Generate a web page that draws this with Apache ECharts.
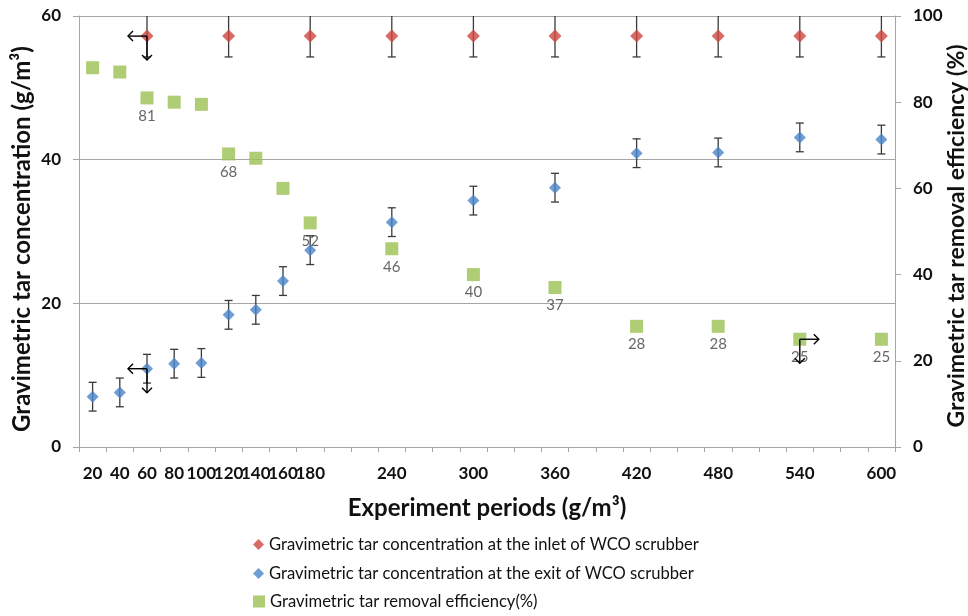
<!DOCTYPE html>
<html>
<head>
<meta charset="utf-8">
<script src="https://cdn.jsdelivr.net/npm/echarts@6/dist/echarts.min.js"></script>
<style>
  html, body { margin: 0; padding: 0; background: #fff; }
  #chart { width: 968px; height: 616px; }
</style>
</head>
<body>
<div id="chart"></div>
<script>
// Experiment periods at which the exit concentration and efficiency were sampled
const periods = [20, 40, 60, 80, 100, 120, 140, 160, 180, 240, 300, 360, 420, 480, 540, 600];
// Tar concentration at the scrubber exit (g/m³) and its error
const exitTar = [7.0, 7.6, 10.9, 11.6, 11.7, 18.4, 19.1, 23.1, 27.4, 31.3, 34.3, 36.1, 40.9, 41.0, 43.1, 42.8];
const exitErr = [2, 2, 2, 2, 2, 2, 2, 2, 2, 2, 2, 2, 2, 2, 2, 2];
// Tar concentration at the scrubber inlet (g/m³) and its error
const inletPeriods = [60, 120, 180, 240, 300, 360, 420, 480, 540, 600];
const inletTar = [57.2, 57.2, 57.2, 57.2, 57.2, 57.2, 57.2, 57.2, 57.2, 57.2];
const inletErr = [2.9, 2.9, 2.9, 2.9, 2.9, 2.9, 2.9, 2.9, 2.9, 2.9];
// Tar removal efficiency (%)
const efficiency = [88, 87, 81, 80, 79.5, 68, 67, 60, 52, 46, 40, 37, 28, 28, 25, 25];
// Periods whose efficiency value is printed next to the marker
const labelledPeriods = [60, 120, 180, 240, 300, 360, 420, 480, 540, 600];
// X axis tick marks and tick labels
const xTicks = [10, 30, 50, 70, 90, 110, 130, 150, 170, 190, 210, 230, 250, 270, 290, 310,
                330, 350, 370, 390, 410, 430, 450, 470, 490, 510, 530, 550, 570, 590, 610];
const xLabels = [20, 40, 60, 80, 100, 120, 140, 160, 180, 240, 300, 360, 420, 480, 540, 600];
// Axis-pointer arrows: which series, at which period, and horizontal direction
const arrowMarks = [
  { series: 'inlet', period: 60, dir: -1 },
  { series: 'exit', period: 60, dir: -1 },
  { series: 'eff', period: 540, dir: 1 }
];

const RED = '#cf4640', BLUE = '#4a84c8', GREEN = '#9bc153';
const FONT = 'Lato, "Liberation Sans", sans-serif';
const names = [
  'Gravimetric tar concentration at the inlet of WCO scrubber',
  'Gravimetric tar concentration at the exit of WCO scrubber',
  'Gravimetric tar removal efficiency(%)'
];
const leftTitle = 'Gravimetric tar concentration (g/m³)';
const rightTitle = 'Gravimetric tar removal efficiency (%)';
const legendRows = [536, 565, 593];

function pairs(xs, ys) { return xs.map((x, i) => [x, ys[i]]); }
function bars(xs, ys, es) { return xs.map((x, i) => [x, ys[i] - es[i], ys[i] + es[i]]); }

function renderErrorBar(params, api) {
  const top = api.coord([api.value(0), api.value(2)]);
  const bot = api.coord([api.value(0), api.value(1)]);
  const w = 4;
  const style = { stroke: '#3a3a3a', lineWidth: 1.3, fill: null };
  return {
    type: 'group',
    children: [
      { type: 'line', shape: { x1: top[0], y1: top[1], x2: bot[0], y2: bot[1] }, style },
      { type: 'line', shape: { x1: top[0] - w, y1: top[1], x2: top[0] + w, y2: top[1] }, style },
      { type: 'line', shape: { x1: bot[0] - w, y1: bot[1], x2: bot[0] + w, y2: bot[1] }, style }
    ]
  };
}

function renderArrow(params, api) {
  const p = api.coord([api.value(0), api.value(1)]);
  const dir = api.value(2);
  const hx = p[0] + dir * 19, vy = p[1] + 24, h = 5;
  const style = { stroke: '#000', lineWidth: 1.4, fill: null };
  return {
    type: 'group',
    children: [
      { type: 'line', shape: { x1: p[0], y1: p[1], x2: hx, y2: p[1] }, style },
      { type: 'polyline', shape: { points: [[hx - dir * h, p[1] - h], [hx, p[1]], [hx - dir * h, p[1] + h]] }, style },
      { type: 'line', shape: { x1: p[0], y1: p[1], x2: p[0], y2: vy }, style },
      { type: 'polyline', shape: { points: [[p[0] - h, vy - h], [p[0], vy], [p[0] + h, vy - h]] }, style }
    ]
  };
}

function arrowData(series) {
  return arrowMarks.filter(a => a.series === series).map(a => {
    if (series === 'inlet') return [a.period, inletTar[inletPeriods.indexOf(a.period)], a.dir];
    if (series === 'exit') return [a.period, exitTar[periods.indexOf(a.period)], a.dir];
    return [a.period, efficiency[periods.indexOf(a.period)], a.dir];
  });
}

const titleStyle = { fontFamily: FONT, fontSize: 24, fontWeight: 'bold', color: '#111' };
const tickLabel = { fontFamily: FONT, fontSize: 17, fontWeight: 'bold', color: '#111' };

// Vertical axis titles, reading bottom to top
function sideTitle(text, x, y, size) {
  return {
    type: 'text',
    x: x, y: y,
    rotation: Math.PI / 2,
    silent: true,
    style: {
      text: text,
      fontFamily: FONT, fontSize: size, fontWeight: 'bold',
      fill: '#111',
      align: 'center', verticalAlign: 'middle'
    }
  };
}

const chart = echarts.init(document.getElementById('chart'));
chart.setOption({
  animation: false,
  backgroundColor: '#fff',
  textStyle: { fontFamily: FONT },
  grid: { left: 79, right: 73, top: 16, bottom: 169, containLabel: false, outerBoundsMode: 'none' },
  graphic: [
    sideTitle(leftTitle, 22, 239, 24),
    sideTitle(rightTitle, 957, 236, 23)
  ],
  legend: names.map((n, i) => ({
    data: [n],
    orient: 'horizontal',
    left: 253,
    top: legendRows[i],
    padding: 0,
    itemWidth: i === 2 ? 12 : 11,
    itemHeight: i === 2 ? 12 : 11,
    itemGap: 5,
    selectedMode: false,
    textStyle: { fontFamily: FONT, fontSize: 16.6, color: '#111' }
  })),
  xAxis: {
    type: 'value',
    min: 10,
    max: 610,
    name: 'Experiment periods (g/m³)',
    nameLocation: 'middle',
    nameGap: 49,
    nameTextStyle: titleStyle,
    axisLine: { show: true, onZero: false, lineStyle: { color: '#a6a6a6', width: 1 } },
    axisTick: { show: true, customValues: xTicks, length: 5, lineStyle: { color: '#a6a6a6' } },
    axisLabel: Object.assign({ customValues: xLabels, margin: 18 }, tickLabel),
    splitLine: { show: false }
  },
  yAxis: [
    {
      type: 'value',
      min: 0, max: 60, interval: 20,
      axisLine: { show: true, lineStyle: { color: '#a6a6a6' } },
      axisTick: { show: true, length: 6, lineStyle: { color: '#a6a6a6' } },
      axisLabel: Object.assign({ margin: 18 }, tickLabel),
      splitLine: { show: true, lineStyle: { color: '#a6a6a6', width: 1 } }
    },
    {
      type: 'value',
      min: 0, max: 100, interval: 20,
      axisLine: { show: true, lineStyle: { color: '#a6a6a6' } },
      axisTick: { show: true, length: 6, lineStyle: { color: '#a6a6a6' } },
      axisLabel: Object.assign({ margin: 18 }, tickLabel),
      splitLine: { show: false }
    }
  ],
  series: [
    {
      type: 'custom', name: 'inletErr', yAxisIndex: 0, clip: true, z: 1,
      renderItem: renderErrorBar, data: bars(inletPeriods, inletTar, inletErr), silent: true
    },
    {
      type: 'custom', name: 'exitErr', yAxisIndex: 0, clip: true, z: 1,
      renderItem: renderErrorBar, data: bars(periods, exitTar, exitErr), silent: true
    },
    {
      type: 'scatter', name: names[0], yAxisIndex: 0, z: 3,
      symbol: 'diamond', symbolSize: 13,
      itemStyle: { color: RED },
      data: pairs(inletPeriods, inletTar)
    },
    {
      type: 'scatter', name: names[1], yAxisIndex: 0, z: 3,
      symbol: 'diamond', symbolSize: 12,
      itemStyle: { color: BLUE },
      data: pairs(periods, exitTar)
    },
    {
      type: 'scatter', name: names[2], yAxisIndex: 1, z: 2,
      symbol: 'rect', symbolSize: 13,
      itemStyle: { color: GREEN },
      label: {
        show: true,
        position: 'bottom',
        distance: 4,
        fontFamily: FONT,
        fontSize: 15,
        color: '#404040',
        formatter: p => labelledPeriods.indexOf(p.value[0]) >= 0 ? String(p.value[1]) : ''
      },
      data: pairs(periods, efficiency)
    },
    {
      type: 'custom', name: 'inletArrow', yAxisIndex: 0, z: 4,
      renderItem: renderArrow, data: arrowData('inlet'), silent: true
    },
    {
      type: 'custom', name: 'exitArrow', yAxisIndex: 0, z: 4,
      renderItem: renderArrow, data: arrowData('exit'), silent: true
    },
    {
      type: 'custom', name: 'effArrow', yAxisIndex: 1, z: 4,
      renderItem: renderArrow, data: arrowData('eff'), silent: true
    }
  ]
});
</script>
</body>
</html>
